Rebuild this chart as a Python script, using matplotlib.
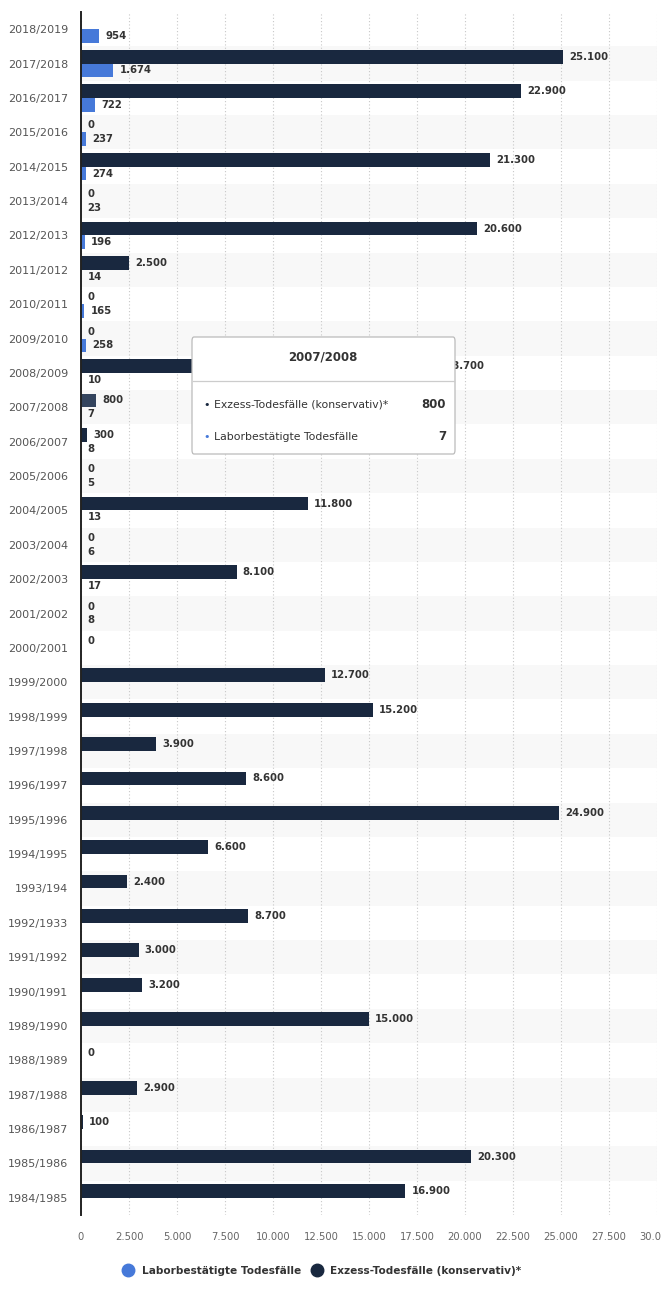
import numpy as np
import matplotlib
matplotlib.use('Agg')
import matplotlib.pyplot as plt
from matplotlib.patches import FancyBboxPatch
from matplotlib.lines import Line2D

seasons = ['2018/2019', '2017/2018', '2016/2017', '2015/2016', '2014/2015', '2013/2014',
           '2012/2013', '2011/2012', '2010/2011', '2009/2010', '2008/2009', '2007/2008',
           '2006/2007', '2005/2006', '2004/2005', '2003/2004', '2002/2003', '2001/2002',
           '2000/2001', '1999/2000', '1998/1999', '1997/1998', '1996/1997', '1995/1996',
           '1994/1995', '1993/194', '1992/1933', '1991/1992', '1990/1991', '1989/1990',
           '1988/1989', '1987/1988', '1986/1987', '1985/1986', '1984/1985']

nan = np.nan
excess = [nan, 25100, 22900, 0, 21300, 0, 20600, 2500, 0, 0, 18700, 800, 300, 0, 11800, 0,
          8100, 0, 0, 12700, 15200, 3900, 8600, 24900, 6600, 2400, 8700, 3000, 3200, 15000,
          0, 2900, 100, 20300, 16900]
lab = [954, 1674, 722, 237, 274, 23, 196, 14, 165, 258, 10, 7, 8, 5, 13, 6, 17, 8,
       nan, nan, nan, nan, nan, nan, nan, nan, nan, nan, nan, nan, nan, nan, nan, nan, nan]

DARK = '#19283f'
BLUE = '#4679d9'
HOVER = '#34445e'

def fmt(v):
    return f"{int(v):,}".replace(',', '.')

fig = plt.figure(figsize=(6.61, 12.99), dpi=100)
ax = fig.add_axes([81/661, 1 - 1215/1299, 576/661, 1203/1299])

y = np.arange(len(seasons))

# alternating row bands
for i in y:
    if i % 2 == 1:
        ax.axhspan(i - 0.5, i + 0.5, color='#f8f8f8', zorder=0, lw=0)

ex = np.array(excess, dtype=float)
lb = np.array(lab, dtype=float)
colors = [HOVER if s == '2007/2008' else DARK for s in seasons]
ax.barh(y - 0.2, np.nan_to_num(ex), height=0.4, color=colors, zorder=3)
ax.barh(y + 0.2, np.nan_to_num(lb), height=0.4, color=BLUE, zorder=3)

for i in y:
    if not np.isnan(ex[i]):
        ax.annotate(fmt(ex[i]), (ex[i], i - 0.2), xytext=(4.5, 0), textcoords='offset points',
                    va='center', ha='left', fontsize=7.3, fontweight='bold', color='#333333', zorder=4)
    if not np.isnan(lb[i]):
        ax.annotate(fmt(lb[i]), (lb[i], i + 0.2), xytext=(4.5, 0), textcoords='offset points',
                    va='center', ha='left', fontsize=7.3, fontweight='bold', color='#333333', zorder=4)

ax.set_ylim(len(seasons) - 0.5, -0.5)
ax.set_xlim(0, 30000)
ax.set_yticks(y)
ax.set_yticklabels(seasons, fontsize=8, color='#555555')
xt = np.arange(0, 30001, 2500)
ax.set_xticks(xt)
ax.set_xticklabels([fmt(v) for v in xt], fontsize=7.2, color='#666666')
ax.tick_params(axis='both', length=0)
ax.tick_params(axis='y', pad=9)
ax.tick_params(axis='x', pad=12)
ax.grid(axis='x', linestyle=(0, (1, 2)), color='#c8c8c8', lw=0.8, zorder=1)
ax.grid(axis='y', visible=False)
for s in ['top', 'right', 'bottom']:
    ax.spines[s].set_visible(False)
ax.spines['left'].set_color('#222222')
ax.spines['left'].set_linewidth(1.4)
ax.spines['left'].set_zorder(5)

# tooltip for 2007/2008
W, H = 661, 1299
def fx(px):
    return px / W
def fy(py):
    return 1 - py / H

box = FancyBboxPatch((fx(192), fy(454)), fx(455) - fx(192), fy(337) - fy(454),
                     boxstyle='round,pad=0,rounding_size=0.003', transform=fig.transFigure,
                     facecolor='white', edgecolor='#bbbbbb', lw=0.9, zorder=10)
fig.patches.append(box)
fig.add_artist(Line2D([fx(193), fx(454)], [fy(380.5), fy(380.5)], color='#cccccc', lw=0.9, zorder=11))
fig.text(fx(323), fy(357.5), '2007/2008', ha='center', va='center', fontsize=8.5,
         fontweight='bold', color='#333333', zorder=11)
idx = seasons.index('2007/2008')
rows = [('Exzess-Todesfälle (konservativ)*', ex[idx], DARK, 404.5),
        ('Laborbestätigte Todesfälle', lb[idx], BLUE, 437)]
for name, val, c, py in rows:
    fig.text(fx(203), fy(py), '\u2022', ha='left', va='center', fontsize=8, color=c, zorder=11)
    fig.text(fx(214), fy(py), name, ha='left', va='center', fontsize=7.8, color='#333333', zorder=11)
    fig.text(fx(446), fy(py), fmt(val), ha='right', va='center', fontsize=8.5,
             fontweight='bold', color='#333333', zorder=11)

handles = [Line2D([], [], marker='o', ls='None', markersize=9, color=BLUE),
           Line2D([], [], marker='o', ls='None', markersize=9, color=DARK)]
leg = fig.legend(handles, ['Laborbestätigte Todesfälle', 'Exzess-Todesfälle (konservativ)*'],
                 loc='center', bbox_to_anchor=(fx(322), fy(1271)), ncol=2, frameon=False,
                 handletextpad=0.8, columnspacing=1.0, handlelength=1.0,
                 prop={'size': 7.6, 'weight': 'bold'})
for t in leg.get_texts():
    t.set_color('#333333')

fig.savefig('out.png', dpi=100)
